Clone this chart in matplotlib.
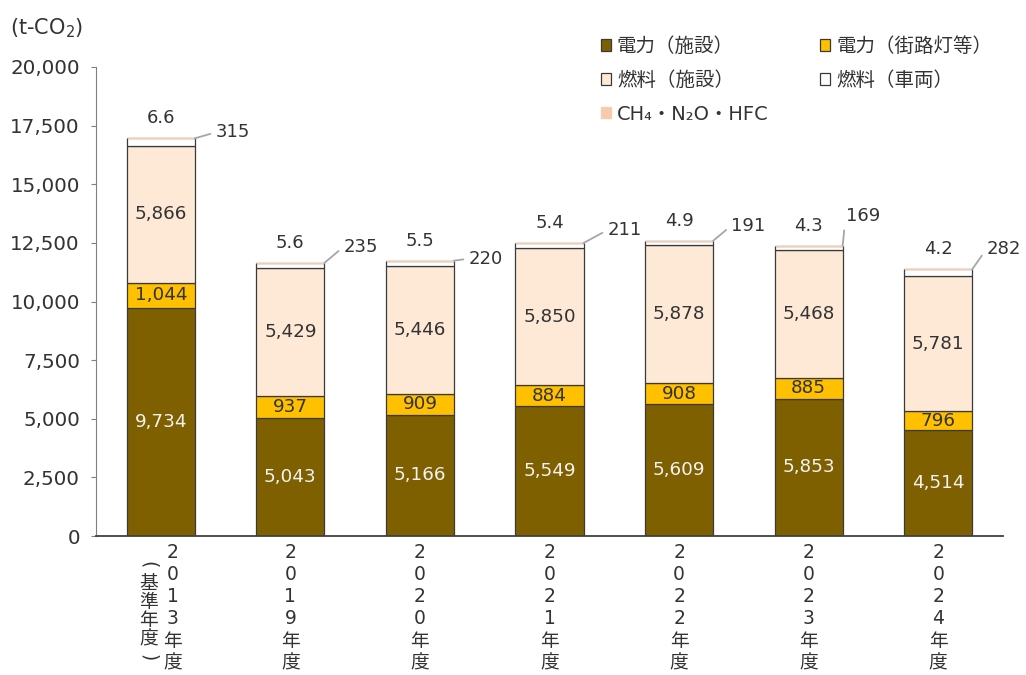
import matplotlib
matplotlib.use('Agg')
import matplotlib.pyplot as plt
from matplotlib.patches import Patch
from matplotlib.ticker import FuncFormatter

plt.rcParams['font.family'] = ['DejaVu Sans', 'Noto Sans CJK JP']
plt.rcParams['mathtext.fontset'] = 'dejavusans'

# data (t-CO2)
years = ['2013', '2019', '2020', '2021', '2022', '2023', '2024']
elec_fac = [9734, 5043, 5166, 5549, 5609, 5853, 4514]
elec_street = [1044, 937, 909, 884, 908, 885, 796]
fuel_fac = [5866, 5429, 5446, 5850, 5878, 5468, 5781]
fuel_veh = [315, 235, 220, 211, 191, 169, 282]
ghg_other = [6.6, 5.6, 5.5, 5.4, 4.9, 4.3, 4.2]
y_ticks = list(range(0, 20001, 2500))

series_names = ['電力（施設）', '電力（街路灯等）', '燃料（施設）', '燃料（車両）', 'CH₄・N₂O・HFC']
colors = ['#7F6000', '#FFC000', '#FDE9D5', '#FFFFFF', '#F8CBAD']
base_note = '基準年度'

# pixel offsets of the vehicle-fuel labels from the bar's top-right corner
veh_offsets = [(21, 6), (19, 16), (15, 2), (24, 13), (18, 15), (3, 30), (14, 20)]

TXT = '#333333'
EDGE = '#3a3a3a'

fig = plt.figure(figsize=(10.26, 6.75), dpi=100)
ax = fig.add_axes([96 / 1026, 1 - 536 / 675, 907 / 1026, 469 / 675])

x = list(range(len(years)))
w = 0.525
bottom = [0.0] * len(years)
layers = [elec_fac, elec_street, fuel_fac, fuel_veh, ghg_other]
for vals, col in zip(layers, colors):
    ec = col if col == '#F8CBAD' else EDGE
    ax.bar(x, vals, w, bottom=bottom, color=col, edgecolor=ec, linewidth=0.9, zorder=2)
    bottom = [b + v for b, v in zip(bottom, vals)]

# labels inside bars
base = [0.0] * len(years)
for vals, tc in [(elec_fac, '#F2F2F2'), (elec_street, TXT), (fuel_fac, TXT)]:
    for i, v in enumerate(vals):
        ax.text(i, base[i] + v / 2, f'{v:,}', ha='center', va='center',
                color=tc, fontsize=13.2, zorder=3)
    base = [b + v for b, v in zip(base, vals)]

# vehicle fuel labels with leader lines
for i, v in enumerate(fuel_veh):
    top = base[i] + v
    dx, dy = veh_offsets[i]
    ax.annotate(f'{v:,}', xy=(i + w / 2, top), xytext=(dx, dy),
                textcoords='offset pixels', ha='left', va='center',
                fontsize=13, color=TXT,
                arrowprops=dict(arrowstyle='-', color='#A6A6A6', lw=1.3,
                                relpos=(0, 0.5), shrinkA=2, shrinkB=0))

# other gases label on top
for i, v in enumerate(ghg_other):
    ax.annotate(f'{v}', xy=(i, bottom[i]), xytext=(0, 11),
                textcoords='offset pixels', ha='center', va='bottom',
                fontsize=13, color=TXT)

ax.set_xlim(-0.5, len(years) - 0.5)
ax.set_ylim(0, 20000)
ax.set_yticks(y_ticks)
ax.yaxis.set_major_formatter(FuncFormatter(lambda v, p: f'{int(v):,}'))
ax.tick_params(axis='y', direction='out', length=3.6, color='#808080',
               labelsize=14.3, labelcolor=TXT, pad=8)
ax.set_xticks([])
for s in ['top', 'right']:
    ax.spines[s].set_visible(False)
ax.spines['left'].set_color('#808080')
ax.spines['bottom'].set_color('#404040')
ax.spines['bottom'].set_linewidth(1.3)

# vertical category labels, one character per line
xt = ax.get_xaxis_transform()


def vcol(chars, xi, dx, y0, step, rot_parens=False):
    for k, ch in enumerate(chars):
        rot = -90 if (rot_parens and ch in '()') else 0
        ax.annotate(ch, xy=(xi, 0), xycoords=xt, xytext=(dx, -(y0 + step * k)),
                    textcoords='offset pixels', ha='center', va='center',
                    fontsize=13.5, color=TXT, rotation=rot, rotation_mode='anchor')


for i, yr in enumerate(years):
    vcol(list(yr) + ['年', '度'], i, 12 if i == 0 else 0, 17, 22)
vcol(['('] + list(base_note) + [')'], 0, -12, 29, 18.6, rot_parens=True)

fig.text(10 / 1026, 1 - 28 / 675, '(t-CO$_2$)', ha='left', va='center', fontsize=15, color=TXT)

handles = [Patch(facecolor=c, edgecolor=(EDGE if c != '#F8CBAD' else c), linewidth=0.9)
           for c in colors]
order = [0, 2, 4, 1, 3]
fig.legend([handles[k] for k in order], [series_names[k] for k in order],
           loc='upper left', bbox_to_anchor=(601 / 1026, 1 - 37 / 675), ncol=2,
           frameon=False, fontsize=14, handlelength=0.52, handleheight=0.52,
           handletextpad=0.3, labelspacing=0.76, columnspacing=2.65,
           labelcolor=TXT, borderaxespad=0, borderpad=0)

fig.savefig('out.png', dpi=100)
